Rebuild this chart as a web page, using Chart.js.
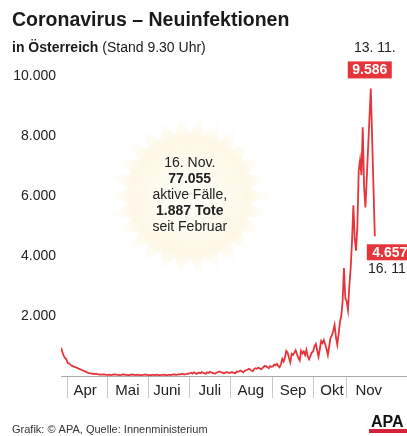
<!DOCTYPE html>
<html>
<head>
<meta charset="utf-8">
<script src="https://cdn.jsdelivr.net/npm/chart.js@4/dist/chart.umd.min.js"></script>
<style>
  html, body { margin: 0; padding: 0; background: #fff; }
  #wrap { width: 407px; height: 436px; position: relative; }
</style>
</head>
<body>
<div id="wrap"><canvas id="myChart" width="407" height="436"></canvas></div>
<script>
// daily new infections, one value per day starting 27.3.2020
const startDate = "27.3.";
const marchValues = [950, 800, 680, 600, 560];
const aprValues = [430, 420, 380, 340, 320, 300, 290, 270, 250, 230, 210, 190, 170, 150, 130,
  110, 95, 90, 80, 75, 65, 75, 60, 55, 50, 45, 55, 50, 45, 40];
const mayValues = [40, 45, 30, 35, 55, 50, 45, 40, 35, 30, 40, 55, 50, 35, 40, 30, 25, 45, 50, 40,
  35, 30, 45, 40, 25, 30, 40, 35, 50, 40, 30];
const junValues = [30, 25, 35, 40, 30, 45, 35, 25, 30, 40, 35, 45, 30, 25, 40, 35, 30, 45, 55, 50,
  40, 45, 60, 55, 70, 65, 50, 60, 75, 70];
const julValues = [90, 110, 80, 120, 100, 70, 95, 110, 90, 130, 110, 85, 75, 120, 100, 140, 120, 105,
  90, 80, 110, 130, 150, 130, 120, 100, 95, 130, 120, 110, 100];
const augValues = [130, 120, 100, 90, 150, 140, 160, 180, 150, 120, 170, 190, 210, 240, 220, 180, 160,
  230, 260, 240, 280, 260, 230, 250, 300, 340, 320, 290, 260, 330, 310];
const sepValues = [320, 380, 360, 410, 330, 290, 390, 570, 480, 620, 840, 780, 600, 450, 735, 700,
  780, 860, 720, 600, 520, 840, 750, 820, 700, 870, 650, 560, 670, 780];
const octValues = [820, 1000, 1070, 850, 640, 900, 1170, 1100, 1200, 1050, 900, 700, 1000, 1270, 1350,
  1500, 1700, 1300, 1050, 1400, 1800, 2000, 2500, 3600, 2600, 2500, 2200, 3000, 3600, 4500, 5690];
const novValues = [4600, 4180, 5000, 6850, 7200, 6700, 8290, 6300, 5620, 6600, 7600, 8600, 9586,
  7950, 6300, 4657];

const values = [].concat(marchValues, aprValues, mayValues, junValues, julValues,
  augValues, sepValues, octValues, novValues);

// x axis: month names and separator marks (in days since start)
const monthLabels = ["Apr", "Mai", "Juni", "Juli", "Aug", "Sep", "Okt", "Nov"];
const monthLabelDays = [18, 49.5, 79, 111, 141.5, 173, 202, 229.5];
const separatorDays = [4.5, 34.5, 65, 95.5, 126.5, 158, 188, 213];
const yTicks = [2000, 4000, 6000, 8000, 10000];

const peakIndex = 231;               // 13. 11.
const lastIndex = values.length - 1; // 16. 11.

const RED = "#e5353b";
const FONT = "'Liberation Sans', Arial, sans-serif";

const fmt = (v) => String(v).replace(/\B(?=(\d{3})+(?!\d))/g, ".");

const decoPlugin = {
  id: "deco",
  beforeDatasetsDraw(chart) {
    const { ctx, scales } = chart;
    // pale sun behind the info text
    const cx = scales.x.getPixelForValue(96);
    const cy = scales.y.getPixelForValue(6000);
    ctx.save();
    const g = ctx.createRadialGradient(cx, cy, 10, cx, cy, 85);
    g.addColorStop(0, "rgba(254,250,236,0.5)");
    g.addColorStop(0.65, "rgba(252,243,212,0.6)");
    g.addColorStop(1, "rgba(253,248,232,0)");
    ctx.fillStyle = g;
    ctx.beginPath();
    const n = 26;
    for (let i = 0; i < n * 2; i++) {
      const r = i % 2 === 0 ? 82 : 62;
      const a = (Math.PI * i) / n;
      const px = cx + r * Math.cos(a), py = cy + r * Math.sin(a);
      i === 0 ? ctx.moveTo(px, py) : ctx.lineTo(px, py);
    }
    ctx.closePath();
    ctx.fill();
    ctx.restore();
  },
  afterDraw(chart) {
    const { ctx, scales } = chart;
    ctx.save();
    ctx.textBaseline = "middle";

    // title + subtitle
    ctx.fillStyle = "#1a1a1a";
    ctx.textAlign = "left";
    ctx.font = "bold 19.5px " + FONT;
    ctx.fillText("Coronavirus – Neuinfektionen", 12, 21);
    ctx.font = "bold 14px " + FONT;
    ctx.fillText("in Österreich", 12, 48);
    const w = ctx.measureText("in Österreich").width;
    ctx.font = "14px " + FONT;
    ctx.fillText(" (Stand 9.30 Uhr)", 12 + w, 48);

    // info text in the sun
    const cx = scales.x.getPixelForValue(96);
    const cy = scales.y.getPixelForValue(6000);
    ctx.textAlign = "center";
    ctx.fillStyle = "#222";
    const lines = [["16. Nov.", false], ["77.055", true], ["aktive Fälle,", false],
      ["1.887 Tote", true], ["seit Februar", false]];
    lines.forEach(([t, b], i) => {
      ctx.font = (b ? "bold " : "") + "14px " + FONT;
      ctx.fillText(t, cx, cy - 33 + i * 16);
    });

    // peak label
    const pk = chart.getDatasetMeta(0).data[peakIndex];
    ctx.fillStyle = RED;
    ctx.fillRect(pk.x - 23, pk.y - 27, 44, 17);
    ctx.fillStyle = "#fff";
    ctx.font = "bold 14px " + FONT;
    ctx.fillText(fmt(values[peakIndex]), pk.x - 1, pk.y - 18);
    ctx.fillStyle = "#222";
    ctx.font = "14px " + FONT;
    ctx.fillText("13. 11.", pk.x + 4, pk.y - 40);

    // last value label
    const ls = chart.getDatasetMeta(0).data[lastIndex];
    ctx.fillStyle = RED;
    ctx.fillRect(ls.x - 8, ls.y + 8, 46, 16);
    ctx.fillStyle = "#fff";
    ctx.font = "bold 14px " + FONT;
    ctx.fillText(fmt(values[lastIndex]), ls.x + 15, ls.y + 16.5);
    ctx.fillStyle = "#222";
    ctx.font = "14px " + FONT;
    ctx.fillText("16. 11.", ls.x + 14, ls.y + 33);

    // footer
    ctx.textAlign = "left";
    ctx.fillStyle = "#333";
    ctx.font = "11px " + FONT;
    ctx.fillText("Grafik: © APA, Quelle: Innenministerium", 12, 430);

    // APA logo
    ctx.fillStyle = "#111";
    ctx.font = "bold 16px " + FONT;
    ctx.fillText("APA", 371, 423);
    ctx.fillStyle = "#d9203a";
    ctx.fillRect(369, 429, 40, 4);
    ctx.restore();
  }
};

new Chart(document.getElementById("myChart").getContext("2d"), {
  type: "line",
  data: {
    datasets: [
      {
        label: "Neuinfektionen",
        data: values.map((v, i) => ({ x: i, y: v })),
        borderColor: RED,
        borderWidth: 1.8,
        pointRadius: 0,
        tension: 0,
        fill: false,
      },
    ],
  },
  options: {
    responsive: false,
    animation: false,
    layout: { padding: { top: 76, right: 0, bottom: 38, left: 0 } },
    plugins: { legend: { display: false }, tooltip: { enabled: false } },
    scales: {
      x: {
        type: "linear",
        min: 0,
        max: 258,
        afterBuildTicks: (axis) => {
          axis.ticks = separatorDays.concat(monthLabelDays)
            .sort((a, b) => a - b)
            .map((v) => ({ value: v }));
        },
        afterFit: (axis) => { axis.height = 22; },
        border: { display: true, color: "#aaa", width: 1 },
        grid: {
          drawOnChartArea: false,
          drawTicks: true,
          tickLength: 22,
          color: (c) => (c.tick && separatorDays.includes(c.tick.value) ? "#c8c8c8" : "rgba(0,0,0,0)"),
        },
        ticks: {
          autoSkip: false,
          maxRotation: 0,
          padding: -16,
          color: "#222",
          font: { family: FONT, size: 15 },
          callback: (v) => {
            const k = monthLabelDays.indexOf(v);
            return k >= 0 ? monthLabels[k] : "";
          },
        },
      },
      y: {
        min: 0,
        max: 10000,
        afterBuildTicks: (axis) => {
          axis.ticks = yTicks.map((v) => ({ value: v }));
        },
        afterFit: (axis) => { axis.width = 61; },
        border: { display: false },
        grid: { display: false, drawTicks: false },
        ticks: {
          padding: 5,
          color: "#222",
          font: { family: FONT, size: 14 },
          callback: (v) => fmt(v),
        },
      },
    },
  },
  plugins: [decoPlugin],
});
</script>
</body>
</html>
